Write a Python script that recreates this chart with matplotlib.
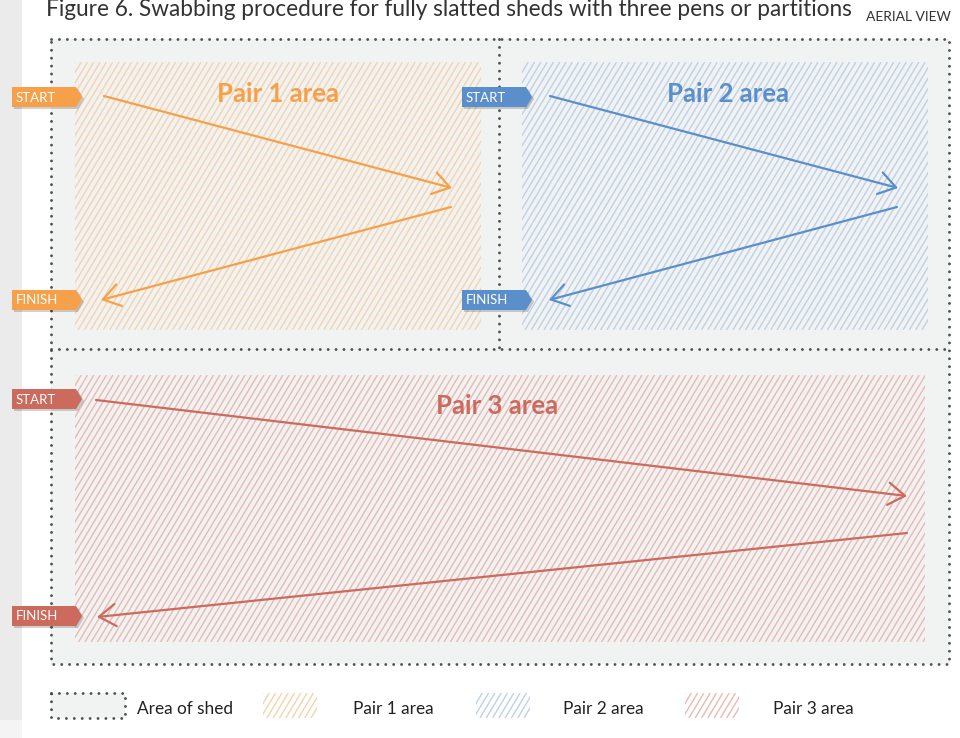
import matplotlib
matplotlib.use('Agg')
import matplotlib.pyplot as plt
from matplotlib.patches import Rectangle, Polygon, FancyArrowPatch
from matplotlib.collections import LineCollection
import numpy as np

plt.rcParams['font.family'] = ['Lato', 'DejaVu Sans']

# ---- diagram content (pixel space, y grows downward) ----
title = 'Figure 6. Swabbing procedure for fully slatted sheds with three pens or partitions'
view_label = 'AERIAL VIEW'

pair_names = ['Pair 1 area', 'Pair 2 area', 'Pair 3 area']
pair_colors = ['#f6a149', '#5b8fcb', '#cd6a5e']
hatch_colors = ['#f5d3ad', '#bfd1e8', '#e9b9b3']
pair_boxes = [(75, 62, 481, 330), (522, 62, 928, 330), (75, 375, 925, 642)]
pair_title_xy = [(278, 94), (728, 94), (497, 406)]
# swab path: start -> turn -> turn -> finish
paths = [
    [(104, 96), (452, 188), (451, 207), (101, 300)],
    [(550, 96), (898, 188), (897, 207), (549, 300)],
    [(96, 400), (907, 496), (907, 533), (97, 617)],
]
start_tags = [(12, 97), (462, 97), (12, 399)]
finish_tags = [(12, 300), (462, 300), (12, 616)]

shed_box = (51, 39, 949, 664)
dividers = [((499, 39), (499, 349)), ((51, 349), (949, 349))]

legend_labels = ['Area of shed', 'Pair 1 area', 'Pair 2 area', 'Pair 3 area']
legend_swatch_x = [51, 263, 476, 685]
legend_text_x = [137, 353, 563, 773]

DOT = '#4d5052'
SHED = '#f1f2f2'

fig = plt.figure(figsize=(9.6, 7.38), dpi=100)
ax = fig.add_axes([0, 0, 1, 1])
ax.set_xlim(0, 960)
ax.set_ylim(738, 0)
ax.axis('off')

# page background bits
ax.add_patch(Rectangle((0, 0), 22, 720, color='#ebebeb', lw=0, zorder=0))
ax.add_patch(Rectangle((0, 720), 22, 18, color='#f4f4f4', lw=0, zorder=0))


def dotted(xs, ys, z=3):
    ax.plot(xs, ys, color=DOT, lw=2.1, linestyle=(0, (0.01, 2.7)),
            dash_capstyle='round', solid_capstyle='round', zorder=z)


def dotted_box(x0, y0, x1, y1, fill=SHED):
    ax.add_patch(Rectangle((x0, y0), x1 - x0, y1 - y0, color=fill, lw=0, zorder=1))
    dotted([x0, x1, x1, x0, x0], [y0, y0, y1, y1, y0])


def hatch_box(x0, y0, x1, y1, col, step=6.3, slope=0.6):
    h = y1 - y0
    segs = []
    c = x0 - h * slope
    while c < x1:
        segs.append([(c, y1), (c + h * slope, y0)])
        c += step
    clip = Rectangle((x0, y0), x1 - x0, y1 - y0, transform=ax.transData)
    lc = LineCollection(segs, colors=col, linewidths=1.0, zorder=2)
    ax.add_collection(lc)
    lc.set_clip_path(clip)


def tag(x, yc, text, col, w=70, hh=10):
    pts = [(x, yc - hh), (x + w - 6, yc - hh), (x + w, yc), (x + w - 6, yc + hh), (x, yc + hh)]
    shadow = [(px + 2, py + 2) for px, py in pts]
    ax.add_patch(Polygon(shadow, closed=True, color='#000000', alpha=0.18, lw=0, zorder=5))
    ax.add_patch(Polygon(pts, closed=True, color=col, lw=0, zorder=6))
    ax.text(x + 4, yc + 0.5, text, color='white', fontsize=9.5, ha='left', va='center', zorder=7)


# shed
dotted_box(*shed_box)
for (a, b) in dividers:
    dotted([a[0], b[0]], [a[1], b[1]])

for i in range(3):
    hatch_box(*pair_boxes[i], hatch_colors[i])
    tx, ty = pair_title_xy[i]
    ax.text(tx, ty, pair_names[i], color=pair_colors[i], fontsize=18.5, fontweight='bold',
            ha='center', va='center', zorder=4)
    p = paths[i]
    for s, e in [(p[0], p[1]), (p[2], p[3])]:
        ax.add_patch(FancyArrowPatch(s, e, arrowstyle='->,head_length=0.6,head_width=0.4',
                                     mutation_scale=20, color=pair_colors[i], lw=1.6,
                                     shrinkA=0, shrinkB=0, zorder=4))
    tag(start_tags[i][0], start_tags[i][1], 'START', pair_colors[i])
    tag(finish_tags[i][0], finish_tags[i][1], 'FINISH', pair_colors[i])

# titles
ax.text(46, 16, title, color='#333333', fontsize=16.3, ha='left', va='baseline')
ax.text(951, 17, view_label, color='#333333', fontsize=10, ha='right', va='center')

# legend
ly0, ly1 = 693, 718
dotted_box(legend_swatch_x[0], ly0, legend_swatch_x[0] + 74, ly1)
for i in range(3):
    hatch_box(legend_swatch_x[i + 1], ly0, legend_swatch_x[i + 1] + 54, ly1, hatch_colors[i])
for x, lab in zip(legend_text_x, legend_labels):
    ax.text(x, 709, lab, color='#222222', fontsize=12.4, ha='left', va='center')

fig.savefig('out.png', dpi=100)
